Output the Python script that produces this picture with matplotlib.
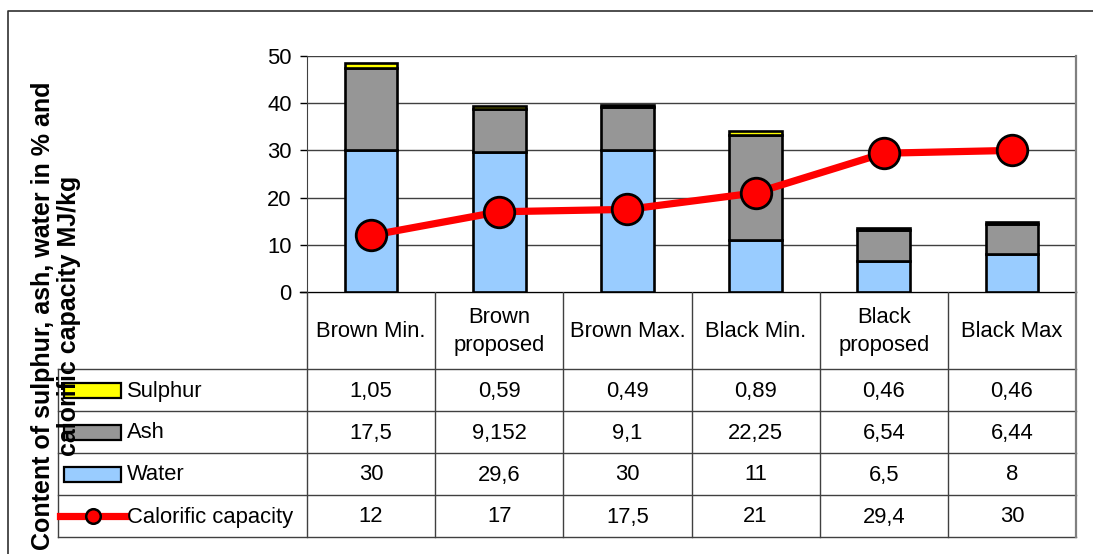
import matplotlib
matplotlib.use("Agg")
import matplotlib.pyplot as plt
from matplotlib.patches import Rectangle
from matplotlib.lines import Line2D

plt.rcParams['font.family'] = ['Liberation Sans', 'DejaVu Sans']

categories = ["Brown Min.", "Brown\nproposed", "Brown Max.", "Black Min.", "Black\nproposed", "Black Max"]
water = [30, 29.6, 30, 11, 6.5, 8]
ash = [17.5, 9.152, 9.1, 22.25, 6.54, 6.44]
sulphur = [1.05, 0.59, 0.49, 0.89, 0.46, 0.46]
calorific = [12, 17, 17.5, 21, 29.4, 30]
water_lbl = ["30", "29,6", "30", "11", "6,5", "8"]
ash_lbl = ["17,5", "9,152", "9,1", "22,25", "6,54", "6,44"]
sulphur_lbl = ["1,05", "0,59", "0,49", "0,89", "0,46", "0,46"]
cal_lbl = ["12", "17", "17,5", "21", "29,4", "30"]
yticks = [0, 10, 20, 30, 40, 50]

W, H = 1093, 554
fig = plt.figure(figsize=(W / 100, H / 100), dpi=100)

# pixel layout
L, R, T, B = 307, 1076, 56, 292
ax = fig.add_axes([L / W, (H - B) / H, (R - L) / W, (B - T) / H])

C_WATER = "#99CCFF"
C_ASH = "#969696"
C_SUL = "#FFFF00"
fs = 15.8

x = list(range(len(categories)))
bw = 0.41
ax.bar(x, water, bw, color=C_WATER, edgecolor="black", linewidth=1.9, zorder=3)
ax.bar(x, ash, bw, bottom=water, color=C_ASH, edgecolor="black", linewidth=1.9, zorder=3)
bot2 = [w + a for w, a in zip(water, ash)]
ax.bar(x, sulphur, bw, bottom=bot2, color=C_SUL, edgecolor="black", linewidth=1.9, zorder=3)
ax.plot(x, calorific, color="#FF0000", lw=5.2, marker="o", markersize=22,
        markerfacecolor="#FF0000", markeredgecolor="black", markeredgewidth=2, zorder=4)

ax.set_xlim(-0.5, len(categories) - 0.5)
ax.set_ylim(0, 50)
ax.set_yticks(yticks)
ax.set_yticklabels([str(v) for v in yticks], fontsize=fs)
ax.tick_params(axis="y", direction="out", length=5, width=1, pad=6)
ax.set_xticks([])
ax.yaxis.grid(True, color="#404040", lw=1, zorder=0)
ax.set_axisbelow(True)
for s in ["top", "bottom"]:
    ax.spines[s].set_visible(False)
ax.spines["left"].set_color("#404040")
ax.spines["right"].set_color("#808080")
ax.spines["right"].set_linewidth(1.6)

# overlay for table and frame in pixel coords
ov = fig.add_axes([0, 0, 1, 1], zorder=-1)
ov.set_xlim(0, W)
ov.set_ylim(H, 0)
ov.axis("off")
ov.patch.set_alpha(0)

def hline(y, x0, x1, c="#404040", lw=1.0):
    ov.add_line(Line2D([x0, x1], [y, y], color=c, lw=lw))

def vline(xp, y0, y1, c="#404040", lw=1.0):
    ov.add_line(Line2D([xp, xp], [y0, y1], color=c, lw=lw))

# outer frame
ov.add_line(Line2D([8, 8, W], [H, 11, 11], color="#303030", lw=1.2))

cw = (R - L) / len(categories)
rows = [292, 369, 411, 453, 495, 537]
TL = 58
hline(292, 300, R, c="black")
for yy in rows[1:]:
    hline(yy, TL, R)
vline(TL, 369, 537)
vline(L, 292, 537)
for i in range(1, len(categories)):
    vline(L + i * cw, 292, 537)
vline(R, 292, 537, c="#808080", lw=1.6)

for i, c in enumerate(categories):
    ov.text(L + (i + 0.5) * cw, (rows[0] + rows[1]) / 2 + 1, c, ha="center", va="center",
            fontsize=fs, linespacing=1.45)

table_rows = [sulphur_lbl, ash_lbl, water_lbl, cal_lbl]
names = ["Sulphur", "Ash", "Water", "Calorific capacity"]
for r, (vals, name) in enumerate(zip(table_rows, names)):
    yc = (rows[r + 1] + rows[r + 2]) / 2
    for i, v in enumerate(vals):
        ov.text(L + (i + 0.5) * cw, yc + 1, v, ha="center", va="center", fontsize=fs)
    ov.text(127, yc + 1, name, ha="left", va="center", fontsize=fs)

key_colors = [C_SUL, C_ASH, C_WATER]
for r, kc in enumerate(key_colors):
    yc = (rows[r + 1] + rows[r + 2]) / 2
    ov.add_patch(Rectangle((64, yc - 7.5), 57, 15, facecolor=kc, edgecolor="black", lw=1.6))
yc = (rows[4] + rows[5]) / 2
ov.add_line(Line2D([60, 126], [yc, yc], color="#FF0000", lw=5.2))
ov.add_line(Line2D([93], [yc], marker="o", markersize=10.5, markerfacecolor="#FF0000",
                   markeredgecolor="black", markeredgewidth=1.8))

fig.text(56 / W, 1 - 316 / H, "Content of sulphur, ash, water in % and\ncalorific capacity MJ/kg",
         rotation=90, ha="center", va="center", fontsize=18, fontweight="bold",
         multialignment="center", linespacing=1.15)

fig.savefig("out.png", dpi=100)
